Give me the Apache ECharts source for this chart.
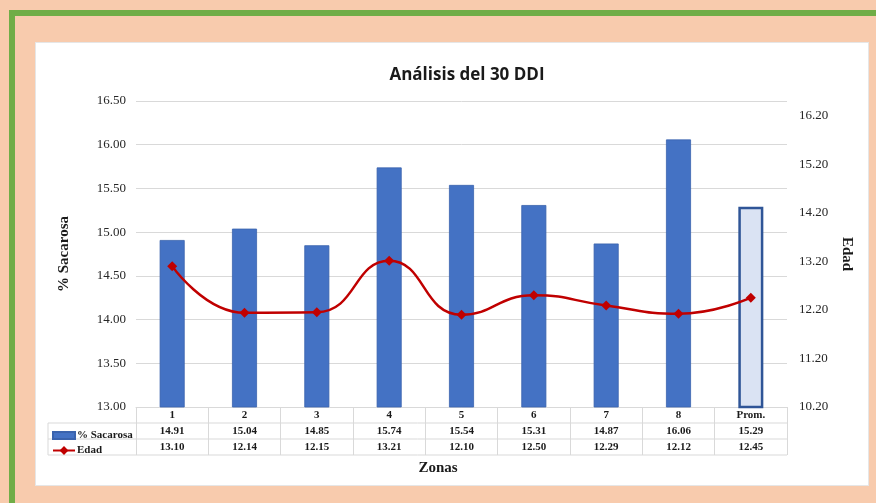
<!DOCTYPE html>
<html>
<head>
<meta charset="utf-8">
<script src="https://cdn.jsdelivr.net/npm/echarts@6/dist/echarts.min.js"></script>
<style>
  html, body { margin: 0; padding: 0; width: 876px; height: 503px; overflow: hidden; background: #f8cbad; }
  #frameTop { position: absolute; left: 9px; top: 10px; width: 867px; height: 6px; background: #70ad47; }
  #frameLeft { position: absolute; left: 9px; top: 10px; width: 6px; height: 493px; background: #70ad47; }
  #panel { position: absolute; left: 35px; top: 42px; width: 834px; height: 444px; background: #ffffff; border: 1px solid #e6e6e6; box-sizing: border-box; }
  #chart { position: absolute; left: 0; top: 0; width: 876px; height: 503px; }
</style>
</head>
<body>
<div id="frameTop"></div>
<div id="frameLeft"></div>
<div id="panel"></div>
<div id="chart"></div>
<script>
// Zonas evaluadas y resultados a los 30 DDI
const zonas = ['1', '2', '3', '4', '5', '6', '7', '8', 'Prom.'];
const sacarosa = [14.91, 15.04, 14.85, 15.74, 15.54, 15.31, 14.87, 16.06, 15.29];
const edad = [13.10, 12.14, 12.15, 13.21, 12.10, 12.50, 12.29, 12.12, 12.45];

// Plot area in pixels
const G = { left: 136, right: 787, top: 101, bottom: 407 };
const ROW = 16;
const serif = '"Liberation Serif", "Times New Roman", serif';

const chart = echarts.init(document.getElementById('chart'));

const barData = sacarosa.map((v, i) => {
  if (zonas[i] === 'Prom.') {
    return { value: v, itemStyle: { color: '#dae3f3', borderColor: '#2f5597', borderWidth: 2.5 } };
  }
  return v;
});

const tableAxis = (offset, values) => ({
  type: 'category',
  data: zonas,
  position: 'bottom',
  offset: offset,
  axisLine: { show: false },
  axisTick: { show: false },
  axisLabel: {
    margin: 3,
    fontFamily: serif, fontWeight: 'bold', fontSize: 11, color: '#1a1a1a',
    formatter: (val, idx) => values[idx].toFixed(2)
  }
});

const tableLine = (y, x1) => ({
  type: 'line', silent: true,
  shape: { x1: x1, y1: y, x2: G.right, y2: y },
  style: { stroke: '#d9d9d9', lineWidth: 1 }
});

chart.setOption({
  animation: false,
  title: {
    text: 'Análisis del 30 DDI',
    left: 462, top: 62, textAlign: 'center',
    textStyle: { fontFamily: '"Open Sans", "Liberation Sans", sans-serif', fontWeight: 'bold', fontSize: 17, color: '#1a1a1a' }
  },
  grid: { left: G.left, right: 876 - G.right, top: G.top, bottom: 503 - G.bottom },
  legend: [
    {
      data: [{ name: '% Sacarosa', icon: 'rect' }], left: 47, top: G.bottom + ROW + 2,
      itemWidth: 22, itemHeight: 7, itemGap: 2,
      textStyle: { fontFamily: serif, fontWeight: 'bold', fontSize: 11, color: '#1a1a1a', padding: [0, 0, 0, -3] }
    },
    {
      data: ['Edad'], left: 47, top: G.bottom + 2 * ROW + 1,
      itemWidth: 22, itemHeight: 11, itemGap: 2,
      textStyle: { fontFamily: serif, fontWeight: 'bold', fontSize: 11, color: '#1a1a1a', padding: [0, 0, 0, -3] }
    }
  ],
  xAxis: [
    {
      type: 'category',
      data: zonas,
      position: 'bottom',
      axisLine: { show: true, lineStyle: { color: '#d9d9d9', width: 1 } },
      axisTick: { show: true, length: 3 * ROW, lineStyle: { color: '#d9d9d9', width: 1 } },
      axisLabel: { margin: 3, fontFamily: serif, fontWeight: 'bold', fontSize: 11, color: '#1a1a1a' }
    },
    tableAxis(ROW, sacarosa),
    tableAxis(2 * ROW, edad)
  ],
  yAxis: [
    {
      type: 'value',
      min: 13, max: 16.5, interval: 0.5,
      name: '% Sacarosa', nameLocation: 'middle', nameGap: 64, nameRotate: 90,
      nameTextStyle: { fontFamily: serif, fontWeight: 'bold', fontSize: 15, color: '#1a1a1a' },
      axisLine: { show: false }, axisTick: { show: false },
      splitLine: { show: true, lineStyle: { color: '#d9d9d9', width: 1 } },
      axisLabel: { margin: 10, fontFamily: serif, fontSize: 13, color: '#262626', formatter: v => v.toFixed(2) }
    },
    {
      type: 'value',
      min: 10.2, max: 16.5, interval: 1,
      name: 'Edad', nameLocation: 'middle', nameGap: 50, nameRotate: -90,
      nameTextStyle: { fontFamily: serif, fontWeight: 'bold', fontSize: 15, color: '#1a1a1a' },
      axisLine: { show: false }, axisTick: { show: false },
      splitLine: { show: false },
      axisLabel: { margin: 12, showMaxLabel: false, fontFamily: serif, fontSize: 13, color: '#262626', formatter: v => v.toFixed(2) }
    }
  ],
  series: [
    {
      name: '% Sacarosa', type: 'bar', yAxisIndex: 0,
      data: barData, barWidth: 25,
      itemStyle: { color: '#4472c4', borderColor: '#3a63ad', borderWidth: 0.8 }
    },
    {
      name: 'Edad', type: 'line', yAxisIndex: 1,
      data: edad, smooth: 0.5,
      symbol: 'diamond', symbolSize: 10,
      lineStyle: { color: '#c00000', width: 2.5 },
      itemStyle: { color: '#c00000' }
    }
  ],
  graphic: [
    tableLine(G.bottom + ROW, 48),
    tableLine(G.bottom + 2 * ROW, 48),
    tableLine(G.bottom + 3 * ROW, 48),
    {
      type: 'line', silent: true,
      shape: { x1: 48, y1: G.bottom + ROW, x2: 48, y2: G.bottom + 3 * ROW },
      style: { stroke: '#d9d9d9', lineWidth: 1 }
    },
    {
      type: 'text', left: 'center', top: 461,
      style: { text: 'Zonas', fontFamily: serif, fontWeight: 'bold', fontSize: 15, fill: '#1a1a1a' },
      x: 10
    }
  ]
});
</script>
</body>
</html>
